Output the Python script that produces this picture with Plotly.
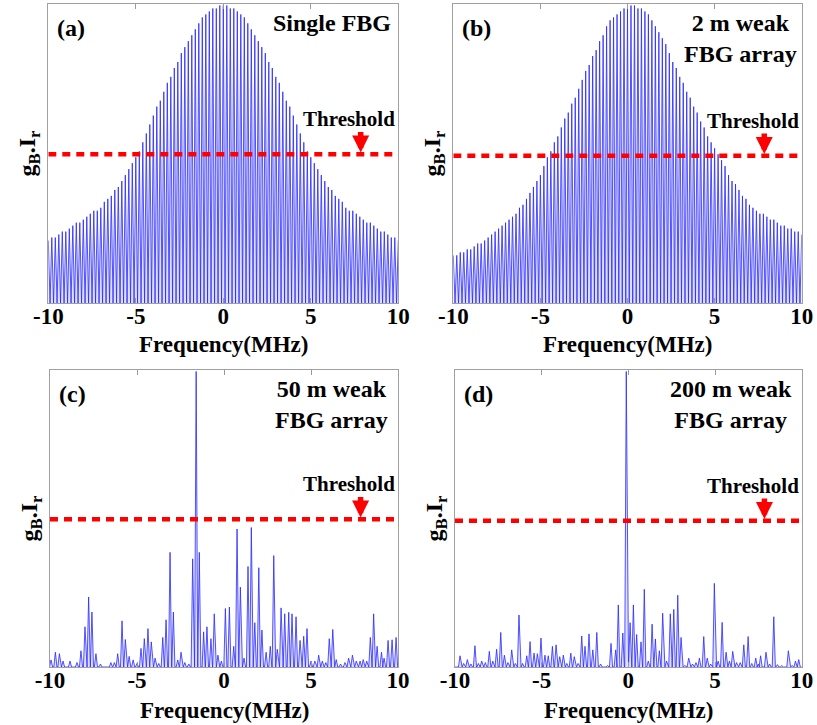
import numpy as np
import plotly.graph_objects as go

# ---- data -------------------------------------------------------------
# Comb of reflection peaks (MHz), one tooth every 0.2 MHz
comb_freq = [round(-10 + 0.2 * i, 1) for i in range(101)]

# (a) Single FBG: normalised tooth heights, -10 .. 10 MHz
single_fbg = [
    0.21, 0.22, 0.22, 0.23, 0.24, 0.24, 0.25, 0.26, 0.27, 0.27,
    0.28, 0.29, 0.30, 0.31, 0.31, 0.32, 0.34, 0.35, 0.36, 0.38,
    0.39, 0.41, 0.43, 0.45, 0.47, 0.49, 0.51, 0.54, 0.57, 0.60,
    0.63, 0.66, 0.68, 0.71, 0.74, 0.76, 0.79, 0.81, 0.84, 0.86,
    0.88, 0.90, 0.92, 0.94, 0.96, 0.97, 0.98, 0.99, 0.99, 1.00,
    1.00,
    1.00, 0.99, 0.99, 0.98, 0.97, 0.96, 0.94, 0.92, 0.90, 0.88,
    0.86, 0.84, 0.81, 0.79, 0.76, 0.74, 0.71, 0.68, 0.66, 0.63,
    0.60, 0.57, 0.54, 0.51, 0.49, 0.47, 0.45, 0.43, 0.41, 0.39,
    0.38, 0.36, 0.35, 0.34, 0.32, 0.31, 0.31, 0.30, 0.29, 0.28,
    0.27, 0.27, 0.26, 0.25, 0.24, 0.24, 0.23, 0.22, 0.22, 0.21,
]

# (b) 2 m weak FBG array
array_2m = [
    0.16, 0.16, 0.17, 0.17, 0.18, 0.18, 0.19, 0.20, 0.20, 0.21,
    0.22, 0.23, 0.24, 0.25, 0.26, 0.27, 0.28, 0.29, 0.30, 0.32,
    0.33, 0.35, 0.37, 0.39, 0.41, 0.43, 0.46, 0.49, 0.51, 0.54,
    0.56, 0.59, 0.62, 0.64, 0.67, 0.69, 0.72, 0.75, 0.78, 0.80,
    0.83, 0.85, 0.88, 0.90, 0.93, 0.95, 0.96, 0.97, 0.98, 0.99,
    0.99,
    1.00, 1.00, 0.99, 0.99, 0.98, 0.97, 0.95, 0.93, 0.91, 0.89,
    0.87, 0.84, 0.81, 0.79, 0.76, 0.74, 0.71, 0.69, 0.66, 0.64,
    0.61, 0.59, 0.56, 0.54, 0.52, 0.50, 0.48, 0.46, 0.43, 0.41,
    0.40, 0.38, 0.36, 0.35, 0.33, 0.32, 0.31, 0.30, 0.30, 0.29,
    0.28, 0.28, 0.27, 0.26, 0.26, 0.25, 0.25, 0.24, 0.24, 0.23,
]

# (c) 50 m weak FBG array: individual peaks (MHz, height)
c_freq = [
    -9.94, -9.69, -9.46, -9.25, -8.85, -8.45, -8.22, -7.99, -7.78, -7.59,
    -7.36, -7.10, -6.50, -6.30, -6.11, -5.86, -5.67, -5.45, -5.22, -5.00,
    -4.77, -4.58, -4.37, -4.18, -3.96, -3.75, -3.52, -3.33, -3.10, -2.91,
    -2.66, -2.47, -2.25, -2.02, -1.80, -1.60, -1.42, -1.17, -0.98, -0.75,
    -0.56, -0.35, -0.15, 0.08, 0.31, 0.56, 0.75, 0.94, 1.15, 1.38,
    1.57, 1.77, 2.00, 2.18, 2.42, 2.66, 2.86, 3.06, 3.28, 3.49,
    3.72, 3.91, 4.14, 4.37, 4.58, 4.77, 5.00, 5.22, 5.44, 5.65,
    5.85, 6.05, 6.25, 6.45, 6.70, 6.95, 7.16, 7.38, 7.60, 7.82,
    8.00, 8.20, 8.41, 8.60, 8.80, 9.05, 9.20, 9.43, 9.66, 9.89,
]
c_height = [
    0.024, 0.050, 0.045, 0.020, 0.020, 0.015, 0.055, 0.136, 0.237, 0.186,
    0.045, 0.010, 0.015, 0.015, 0.045, 0.156, 0.093, 0.036, 0.024, 0.012,
    0.063, 0.096, 0.130, 0.085, 0.030, 0.012, 0.100, 0.160, 0.388, 0.186,
    0.024, 0.050, 0.015, 0.010, 0.366, 1.000, 0.388, 0.119, 0.136, 0.096,
    0.180, 0.040, 0.020, 0.198, 0.203, 0.070, 0.467, 0.270, 0.030, 0.340,
    0.472, 0.150, 0.336, 0.125, 0.050, 0.070, 0.377, 0.060, 0.200, 0.180,
    0.185, 0.180, 0.170, 0.090, 0.104, 0.130, 0.020, 0.020, 0.040, 0.020,
    0.015, 0.096, 0.127, 0.025, 0.010, 0.015, 0.030, 0.040, 0.020, 0.020,
    0.025, 0.020, 0.100, 0.180, 0.070, 0.050, 0.030, 0.090, 0.092, 0.100,
]

# (d) 200 m weak FBG array
d_freq = [
    -9.71, -9.50, -9.29, -9.08, -8.85, -8.65, -8.46, -8.25, -8.02, -7.82,
    -7.60, -7.36, -7.15, -6.95, -6.73, -6.52, -6.31, -6.10, -5.86, -5.67,
    -5.44, -5.25, -5.04, -4.81, -4.62, -4.38, -4.17, -3.96, -3.75, -3.55,
    -3.32, -3.12, -2.90, -2.69, -2.50, -2.27, -2.05, -1.82, -1.60, -1.20,
    -1.00, -0.73, -0.58, -0.32, -0.12, 0.10, 0.29, 0.48, 0.73, 0.92,
    1.15, 1.37, 1.56, 1.79, 1.98, 2.20, 2.42, 2.62, 2.85, 3.04,
    3.25, 3.48, 3.70, 3.90, 4.10, 4.35, 4.55, 4.75, 4.96, 5.18,
    5.41, 5.64, 5.83, 6.02, 6.24, 6.45, 6.66, 6.91, 7.12, 7.35,
    7.50, 7.63, 7.94, 8.15, 8.39, 8.60, 8.85, 9.23, 9.45, 9.64,
    9.83,
]
d_height = [
    0.038, 0.012, 0.025, 0.010, 0.072, 0.012, 0.020, 0.015, 0.053, 0.020,
    0.060, 0.117, 0.040, 0.015, 0.058, 0.012, 0.176, 0.012, 0.038, 0.086,
    0.047, 0.045, 0.098, 0.040, 0.038, 0.070, 0.075, 0.035, 0.040, 0.012,
    0.047, 0.035, 0.012, 0.105, 0.070, 0.112, 0.058, 0.117, 0.010, 0.005,
    0.080, 0.058, 0.210, 0.115, 1.000, 0.150, 0.210, 0.110, 0.085, 0.263,
    0.020, 0.145, 0.095, 0.055, 0.182, 0.020, 0.180, 0.195, 0.243, 0.100,
    0.005, 0.030, 0.010, 0.015, 0.030, 0.103, 0.030, 0.010, 0.283, 0.020,
    0.151, 0.050, 0.020, 0.053, 0.015, 0.015, 0.075, 0.103, 0.012, 0.030,
    0.010, 0.038, 0.050, 0.010, 0.170, 0.008, 0.005, 0.055, 0.005, 0.020,
    0.025,
]

panel_labels = ["(a)", "(b)", "(c)", "(d)"]
panel_titles = ["Single FBG", "2 m weak<br>FBG array",
                "50 m weak<br>FBG array", "200 m weak<br>FBG array"]
thresholds = [0.50, 0.495, 0.50, 0.495]
x_ticks = [-10, -5, 0, 5, 10]
x_title = "Frequency(MHz)"
y_title = "g<sub>B</sub>.I<sub>r</sub>"

# ---- helpers ----------------------------------------------------------
def comb_trace(freqs, heights):
    """Zig-zag line: each tooth rises from the floor to its height."""
    xs, ys = [], []
    for i, (f, h) in enumerate(zip(freqs, heights)):
        xs.append(f)
        ys.append(h)
        if i < len(freqs) - 1:
            xs.append(round(f + 0.1, 2))
            ys.append(0.0)
    return xs, ys


def peak_trace(freqs, heights, hw=0.09):
    """Narrow triangular peaks standing on a zero floor."""
    order = np.argsort(freqs)
    xs, ys = [-10.0], [0.0]
    for k in order:
        f, h = freqs[k], heights[k]
        xs += [f - hw, f, f + hw]
        ys += [0.0, h, 0.0]
    xs.append(10.0)
    ys.append(0.0)
    return xs, ys


W, H = 817, 725
# plot-area boxes in pixels: left, right, top, bottom
boxes = [
    (48.3, 398.3, 4, 303),
    (453.3, 801.7, 4, 303),
    (50.0, 398.0, 370, 667),
    (455.0, 801.7, 370, 667),
]
# vertical centre of each x-axis title, in pixels from the top
x_title_y = [344, 344, 710, 710]

series = [
    comb_trace(comb_freq, single_fbg),
    comb_trace(comb_freq, array_2m),
    peak_trace(c_freq, c_height),
    peak_trace(d_freq, d_height),
]

LINE = "rgb(40,40,255)"
FILL = "rgba(110,110,255,0.22)"
RED = "rgb(255,0,0)"
SERIF = "Times New Roman, Liberation Serif, Tinos, serif"

fig = go.Figure()
layout = dict(
    width=W, height=H,
    margin=dict(l=0, r=0, t=0, b=0, autoexpand=False),
    paper_bgcolor="white", plot_bgcolor="white",
    showlegend=False,
    annotations=[],
)

bold = dict(family=SERIF, color="black", weight="bold")

for i, ((l, r, t, b), (xs, ys)) in enumerate(zip(boxes, series)):
    n = "" if i == 0 else str(i + 1)
    xa, ya = "x" + n, "y" + n
    fig.add_trace(go.Scatter(
        x=xs, y=ys, xaxis=xa, yaxis=ya, mode="lines",
        line=dict(color=LINE, width=0.8), fill="tozeroy", fillcolor=FILL,
        hoverinfo="skip",
    ))
    fig.add_trace(go.Scatter(
        x=[-10, 10], y=[thresholds[i]] * 2, xaxis=xa, yaxis=ya, mode="lines",
        line=dict(color=RED, width=4.6, dash="8px,6px"), hoverinfo="skip",
    ))

    layout["xaxis" + n] = dict(
        domain=[l / W, r / W], anchor=ya, range=[-10, 10], automargin=False,
        tickvals=x_ticks, ticktext=[str(v) for v in x_ticks],
        ticks="inside", ticklen=5, tickcolor="#9a9a9a", tickwidth=1,
        ticklabelstandoff=-8,
        showline=True, linecolor="#a0a0a0", linewidth=1, mirror="ticks",
        showgrid=False, zeroline=False,
        tickfont=dict(size=23, **bold),
    )
    layout["yaxis" + n] = dict(
        domain=[1 - b / H, 1 - t / H], anchor=xa, range=[0, 1.005],
        automargin=False, showticklabels=False, ticks="",
        showline=True, linecolor="#a0a0a0", linewidth=1, mirror=True,
        showgrid=False, zeroline=False,
        title=dict(text=y_title, standoff=4, font=dict(size=24, **bold)),
    )

    # x-axis title
    layout["annotations"].append(dict(
        xref=xa + " domain", yref="paper", x=0.5, y=1 - x_title_y[i] / H,
        xanchor="center", yanchor="middle", showarrow=False,
        text=x_title, font=dict(size=23, **bold),
    ))
    # panel letter
    layout["annotations"].append(dict(
        xref=xa + " domain", yref=ya + " domain", x=0.02, y=0.97,
        xanchor="left", yanchor="top", showarrow=False,
        text=panel_labels[i], font=dict(size=24, **bold),
    ))
    # panel caption
    cx = [0.985, 0.825, 0.81, 0.795][i]
    layout["annotations"].append(dict(
        xref=xa + " domain", yref=ya + " domain",
        x=cx, y=0.985, xanchor="right" if i == 0 else "center", yanchor="top",
        showarrow=False, align="center",
        text=panel_titles[i], font=dict(size=24, **bold),
    ))
    # threshold label and arrow
    layout["annotations"].append(dict(
        xref=xa, yref=ya, x=7.18, y=thresholds[i] + 0.118,
        xanchor="center", yanchor="middle", showarrow=False,
        text="Threshold", font=dict(size=21, **bold),
    ))
    layout["annotations"].append(dict(
        xref=xa, yref=ya, x=7.85, y=thresholds[i] + 0.006,
        ax=0, ay=-22, axref="pixel", ayref="pixel",
        showarrow=True, arrowhead=2, arrowsize=0.62, arrowwidth=5.5,
        arrowcolor=RED, text="",
    ))

fig.update_layout(**layout)
fig.write_html("out.html")
